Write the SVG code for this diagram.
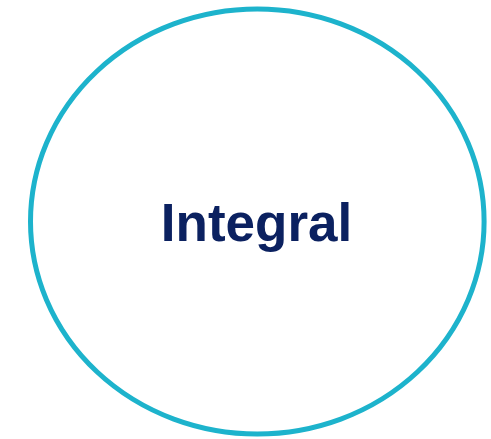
<svg xmlns="http://www.w3.org/2000/svg" width="491" height="439" viewBox="0 0 491 439">
<style>
.c{fill:#ffffff;stroke:#1db3cc;stroke-width:5}
.t{font-family:"Liberation Sans",Arial,sans-serif;font-weight:bold;font-size:53px;fill:#0b2160}
</style>
<rect width="491" height="439" fill="#ffffff"/>
<g id="node-integral">
<ellipse class="c" cx="257.3" cy="221.5" rx="226.8" ry="212.5"/>
<text class="t" x="256.5" y="240.7" text-anchor="middle">Integral</text>
</g>
<g id="connectors"></g>
</svg>
